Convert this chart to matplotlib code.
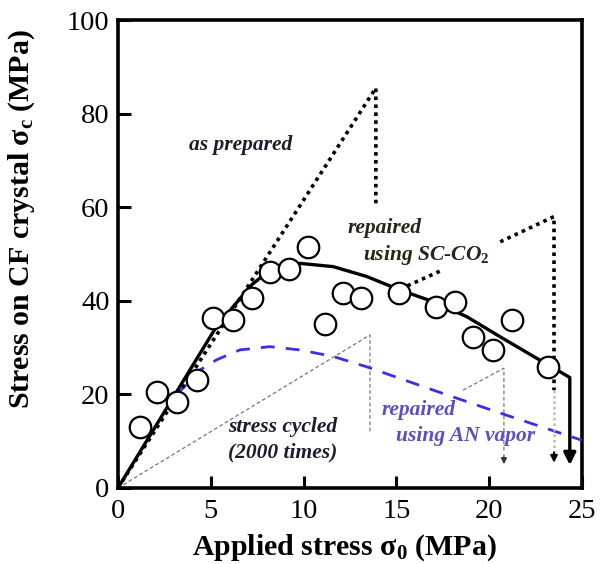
import matplotlib

matplotlib.use("Agg")
import matplotlib.pyplot as plt  # noqa: E402

plt.rcParams["font.family"] = ["Liberation Serif", "DejaVu Serif"]
plt.rcParams["mathtext.fontset"] = "custom"
plt.rcParams["mathtext.rm"] = "Liberation Serif:bold"
plt.rcParams["mathtext.it"] = "Liberation Serif:bold:italic"
plt.rcParams["mathtext.bf"] = "Liberation Serif:bold"

# measured points (open circles)
pts_x = [1.17, 2.12, 3.16, 4.24, 5.13, 6.18, 7.2, 8.19, 9.23, 10.25,
         11.15, 12.13, 13.12, 15.16, 17.13, 18.15, 19.14, 20.19, 21.21, 23.19]
pts_y = [13.1, 20.6, 18.4, 23.1, 36.3, 36.0, 40.5, 46.1, 46.7, 51.6,
         35.0, 41.7, 40.5, 41.6, 38.7, 39.8, 32.3, 29.5, 36.0, 25.9]

# solid fit curve (ends in a drop to failure)
fit_x = [0, 5.2, 6.2, 7.2, 8.2, 9.0, 9.8, 11.6, 13.4, 15.2, 17.0, 18.8,
         20.6, 22.4, 23.8, 24.35, 24.35]
fit_y = [0, 33.8, 38.7, 43.4, 46.6, 47.8, 48.0, 47.3, 45.2, 42.3, 39.8,
         36.6, 32.3, 28.1, 24.9, 23.6, 9.0]

# as prepared (heavy dotted)
prep_x = [0, 13.9, 13.9]
prep_y = [0, 85.5, 60.1]

# repaired using SC-CO2 (heavy dotted, broken by the label)
sc1_x = [15.6, 17.5]
sc1_y = [43.2, 46.6]
sc2_x = [20.6, 23.5, 23.5]
sc2_y = [52.6, 58.0, 20.9]
sc_tail_x = [23.5, 23.5]
sc_tail_y = [20.9, 8.0]

# stress cycled (thin grey dashed)
cyc1_x = [0, 13.58, 13.58]
cyc1_y = [0, 32.7, 11.8]
cyc2_x = [18.6, 20.8, 20.8]
cyc2_y = [20.9, 25.6, 7.5]

# repaired using AN vapor (blue dashed)
an_x = [3.16, 4.42, 5.32, 6.57, 8.19, 9.8, 11.6, 13.4, 17.0, 20.6, 25.0]
an_y = [19.9, 25.2, 27.4, 29.5, 30.2, 29.5, 28.1, 25.9, 20.9, 16.0, 10.2]

BLUE = "#3a2fe8"
FS = 15.5

fig = plt.figure(figsize=(6.08, 5.64), dpi=100)
ax = fig.add_axes([0.194, 0.1348, 0.763, 0.8297])

ax.plot(cyc1_x, cyc1_y, color="#777777", lw=0.9, ls=(0, (3, 2)), zorder=2)
ax.plot(cyc2_x, cyc2_y, color="#777777", lw=0.9, ls=(0, (3, 2)), zorder=2)
ax.annotate("", xy=(20.8, 4.5), xytext=(20.8, 7.6),
            arrowprops=dict(arrowstyle="-|>", color="#333333", lw=0.9,
                            mutation_scale=9))

ax.plot(an_x, an_y, color=BLUE, lw=2.0, ls=(0, (5, 4)), zorder=3)

ax.plot(prep_x, prep_y, color="black", lw=2.6, ls=(0, (1, 1.2)), zorder=3)
ax.plot(sc1_x, sc1_y, color="black", lw=2.6, ls=(0, (1, 1.2)), zorder=3)
ax.plot(sc2_x, sc2_y, color="black", lw=2.6, ls=(0, (1, 1.2)), zorder=3)
ax.plot(sc_tail_x, sc_tail_y, color="#bbbbbb", lw=1.8, ls=(0, (1, 1.2)), zorder=3)
ax.annotate("", xy=(23.5, 4.8), xytext=(23.5, 8.2),
            arrowprops=dict(arrowstyle="-|>", color="black", lw=1.5,
                            mutation_scale=10))

ax.plot(fit_x, fit_y, color="black", lw=2.4, zorder=4)
ax.annotate("", xy=(24.35, 4.3), xytext=(24.35, 9.2),
            arrowprops=dict(arrowstyle="-|>", color="black", lw=2.4,
                            mutation_scale=18))

ax.plot(pts_x, pts_y, "o", ms=15.5, mfc="white", mec="black", mew=1.6, zorder=5)

txt = dict(fontsize=FS, fontweight="bold", style="italic", va="center")
ax.text(6.63, 73.3, "as prepared", color="#1c1c2e", ha="center", **txt)
ax.text(12.39, 55.6, "repaired", color="#2a2418", ha="left", **txt)
ax.text(13.2, 49.8, "using SC-CO$_2$", color="#2a2418", ha="left", **txt)
ax.text(8.89, 13.1, "stress cycled", color="#1c1c2e", ha="center", **txt)
ax.text(8.89, 7.5, "(2000 times)", color="#1c1c2e", ha="center", **txt)
ax.text(14.2, 16.7, "repaired", color="#5a4fc4", ha="left", **txt)
ax.text(15.0, 11.0, "using AN vapor", color="#5a4fc4", ha="left", **txt)

ax.set_xlim(0, 25)
ax.set_ylim(0, 100)
ax.set_xticks([0, 5, 10, 15, 20, 25])
ax.set_yticks([0, 20, 40, 60, 80, 100])
ax.tick_params(direction="in", length=9, width=2.2, labelsize=20.5)
ax.tick_params(axis="x", pad=8)
ax.tick_params(axis="y", pad=6)
for s in ax.spines.values():
    s.set_linewidth(2.6)

ax.set_xlabel("Applied stress σ$_0$ (MPa)", fontsize=21.5, fontweight="bold",
              va="center")
ax.set_ylabel("Stress on CF crystal σ$_\\mathrm{c}$ (MPa)", fontsize=21.5,
              fontweight="bold", va="center")
ax.xaxis.set_label_coords(0.489, -0.128)
ax.yaxis.set_label_coords(-0.207, 0.575)

fig.savefig("out.png", dpi=100)
plt.close(fig)
